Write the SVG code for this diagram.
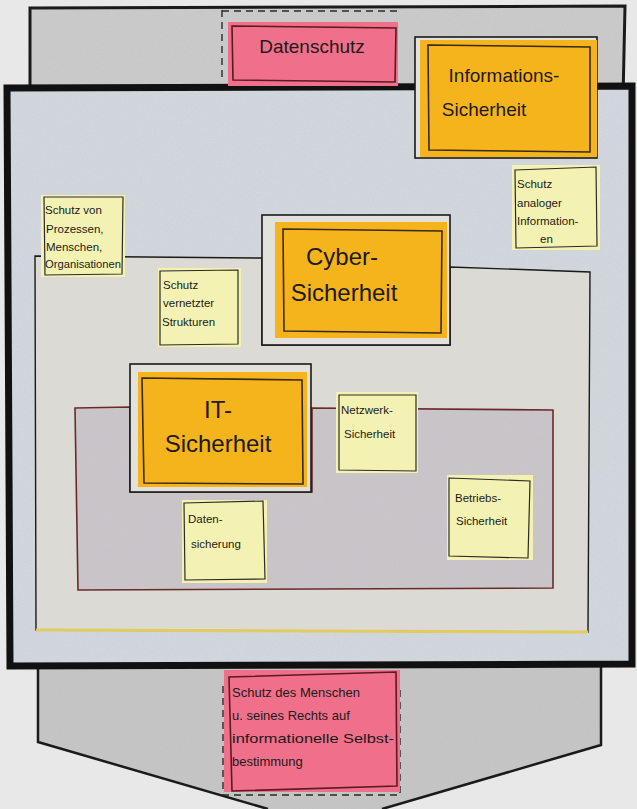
<svg xmlns="http://www.w3.org/2000/svg" width="637" height="809" viewBox="0 0 637 809">
<defs>
<filter id="grain" x="0" y="0" width="100%" height="100%">
<feTurbulence type="fractalNoise" baseFrequency="0.9" numOctaves="2" seed="3" result="n"/>
<feColorMatrix in="n" type="matrix" values="0 0 0 0 0.4  0 0 0 0 0.4  0 0 0 0 0.42  0 0 0 0.25 0" result="g"/>
<feComposite in="g" in2="SourceGraphic" operator="in" result="gi"/>
<feMerge><feMergeNode in="SourceGraphic"/><feMergeNode in="gi"/></feMerge>
</filter>
<style>
text{font-family:"Liberation Sans","DejaVu Sans",sans-serif;fill:#1c1a1a}
.big{font-size:24px}
.mid{font-size:19px}
.sm{font-size:11.5px}
.sticky{fill:#f4f2b2}
.stickyb{fill:none;stroke:#2a2a2a;stroke-width:1.2}
.orange{fill:#f6b41c}
.inner{fill:none;stroke:#3a2a10;stroke-width:1.6}
.frame{fill:#e2e1dc;stroke:#1a1a1a;stroke-width:1.6}
.pink{fill:#f0708b}
.pinkb{fill:none;stroke:#5a1a20;stroke-width:1.6}
.dash{fill:none;stroke:#2a2a2a;stroke-width:1.4;stroke-dasharray:7 5}
</style>
</defs>
<rect x="0" y="0" width="637" height="809" fill="#e8e8e8"/>

<g id="band-top">
<path d="M30 8 L625 6 L623 100 L30 100 Z" fill="#cdcdcd" filter="url(#grain)"/>
<path d="M30 100 L30 8 L625 6 L623 100" fill="none" stroke="#1a1a1a" stroke-width="3"/>
<path d="M222 10 L222 82" class="dash"/>
<path d="M222 11 L398 11" class="dash"/>
</g>

<g id="band-bottom">
<path d="M38 662 L601 662 L601 745 L382 809 L268 809 L38 742 Z" fill="#c8c8c8" filter="url(#grain)"/>
<path d="M38 662 L38 742 L268 809 M382 809 L601 745 L601 662" fill="none" stroke="#1a1a1a" stroke-width="2.5"/>
<path d="M223 686 L223 795 L400 795 L400 686" class="dash"/>
</g>

<g id="informationssicherheit-area">
<path d="M7 88 L632 86 L632 664 L10 666 Z" fill="#d5dbe1" filter="url(#grain)"/>
<path d="M7 88 L632 86 L632 664 L10 666 Z" fill="none" stroke="#111" stroke-width="7"/>
</g>

<g id="cybersicherheit-area">
<path d="M35 256 L262 258 L262 345 L450 345 L450 267 L590 272 L588 632 L36 630 Z" fill="#dcdad4" stroke="#1a1a1a" stroke-width="1.4"/>
<path d="M36 630 L588 632" stroke="#e0cc60" stroke-width="3" fill="none"/>
</g>

<g id="itsicherheit-area">
<path d="M75 408 L130 407 L130 492 L312 492 L312 408 L553 410 L553 588 L78 590 Z" fill="#cdc8cc" filter="url(#grain)"/>
<path d="M75 408 L130 407 L130 492 L312 492 L312 408 L553 410 L553 588 L78 590 Z" fill="none" stroke="#6a2a2a" stroke-width="1.6"/>
</g>

<g id="datenschutz">
<rect x="228" y="22" width="170" height="64" class="pink"/>
<path d="M232 26 L396 28 L395 82 L233 80 Z" class="pinkb"/>
<text x="312" y="53" class="mid" text-anchor="middle">Datenschutz</text>
</g>

<g id="informations-sicherheit">
<rect x="415" y="37" width="182" height="121" class="frame"/>
<rect x="420" y="40" width="177" height="117" class="orange"/>
<path d="M428 45 L590 47 L590 152 L429 150 Z" class="inner"/>
<text x="504" y="82" class="mid" text-anchor="middle">Informations-</text>
<text x="484" y="116" class="mid" text-anchor="middle">Sicherheit</text>
</g>

<g id="schutz-analoger-informationen">
<rect x="512" y="165" width="88" height="85" class="sticky"/>
<path d="M515 170 L596 167 L597 246 L516 248 Z" class="stickyb"/>
<text x="517" y="188" class="sm">Schutz</text>
<text x="517" y="207" class="sm">analoger</text>
<text x="517" y="225" class="sm">Information-</text>
<text x="540" y="243" class="sm">en</text>
</g>

<g id="schutz-von-prozessen">
<rect x="41" y="195" width="84" height="82" class="sticky"/>
<path d="M44 197 L123 197 L122 274 L45 275 Z" class="stickyb"/>
<text x="45" y="214" class="sm">Schutz von</text>
<text x="46" y="233" class="sm">Prozessen,</text>
<text x="46" y="251" class="sm">Menschen,</text>
<text x="45" y="268" class="sm" textLength="76" lengthAdjust="spacingAndGlyphs">Organisationen</text>
</g>

<g id="cyber-sicherheit">
<rect x="262" y="215" width="188" height="130" class="frame"/>
<rect x="275" y="222" width="172" height="116" class="orange"/>
<path d="M283 229 L442 231 L441 333 L284 331 Z" class="inner"/>
<text x="342" y="265" class="big" text-anchor="middle">Cyber-</text>
<text x="344" y="301" class="big" text-anchor="middle">Sicherheit</text>
</g>

<g id="schutz-vernetzter-strukturen">
<rect x="158" y="268" width="83" height="79" class="sticky"/>
<path d="M160 271 L238 270 L238 344 L160 345 Z" class="stickyb"/>
<text x="163" y="289" class="sm">Schutz</text>
<text x="163" y="307" class="sm">vernetzter</text>
<text x="162" y="326" class="sm">Strukturen</text>
</g>

<g id="it-sicherheit">
<rect x="130" y="364" width="181" height="128" class="frame"/>
<rect x="138" y="372" width="169" height="115" class="orange"/>
<path d="M142 378 L302 380 L303 484 L144 483 Z" class="inner"/>
<text x="218" y="418" class="big" text-anchor="middle">IT-</text>
<text x="218" y="452" class="big" text-anchor="middle">Sicherheit</text>
</g>

<g id="netzwerk-sicherheit">
<rect x="336" y="392" width="82" height="81" class="sticky"/>
<path d="M339 395 L416 395 L416 471 L339 470 Z" class="stickyb"/>
<text x="341" y="414" class="sm">Netzwerk-</text>
<text x="344" y="438" class="sm">Sicherheit</text>
</g>

<g id="daten-sicherung">
<rect x="182" y="500" width="85" height="83" class="sticky"/>
<path d="M184 503 L263 501 L265 579 L185 580 Z" class="stickyb"/>
<text x="188" y="523" class="sm">Daten-</text>
<text x="191" y="548" class="sm">sicherung</text>
</g>

<g id="betriebs-sicherheit">
<rect x="447" y="475" width="86" height="85" class="sticky"/>
<path d="M449 478 L530 481 L528 558 L449 556 Z" class="stickyb"/>
<text x="455" y="502" class="sm">Betriebs-</text>
<text x="456" y="525" class="sm">Sicherheit</text>
</g>

<g id="schutz-des-menschen">
<rect x="224" y="670" width="176" height="122" class="pink"/>
<path d="M229 677 L396 672 L397 786 L232 791 Z" class="pinkb"/>
<text x="232" y="697" font-size="13">Schutz des Menschen</text>
<text x="232" y="720" font-size="13">u. seines Rechts auf</text>
<text x="232" y="743" font-size="13" textLength="162" lengthAdjust="spacingAndGlyphs">informationelle Selbst-</text>
<text x="232" y="766" font-size="13">bestimmung</text>
</g>

<g id="connectors"/>
</svg>
